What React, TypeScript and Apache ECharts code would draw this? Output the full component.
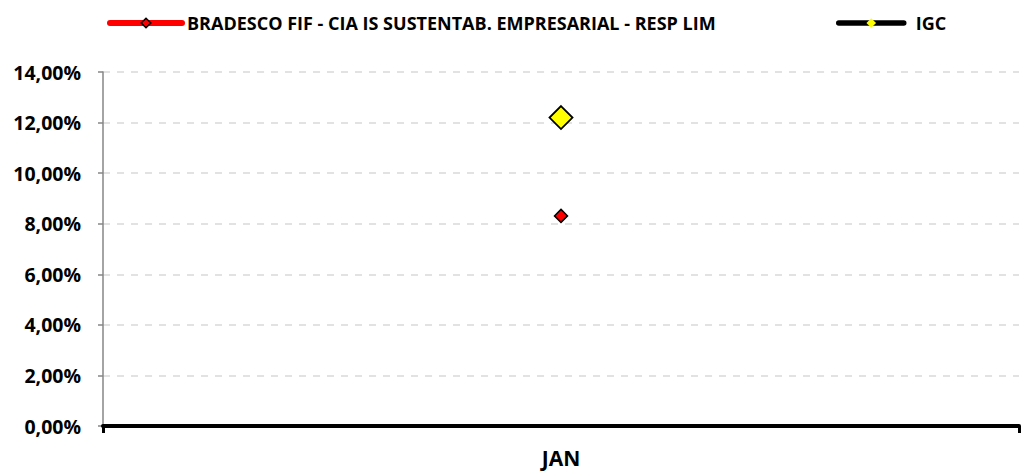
import React, { useEffect, useRef } from "react";
import * as echarts from "echarts";

const categories = ["JAN"];
const fundName = "BRADESCO FIF - CIA IS SUSTENTAB. EMPRESARIAL - RESP LIM";
const benchName = "IGC";
const fundValues = [8.31];
const benchValues = [12.2];
const yMin = 0;
const yMax = 14;
const yInterval = 2;

const FONT = "'Open Sans', Lato, sans-serif";

export default function App() {
  const ref = useRef<HTMLDivElement>(null);
  useEffect(() => {
    if (!ref.current) return;
    const chart = echarts.init(ref.current, undefined, { renderer: "svg" });
    chart.setOption({
      animation: false,
      backgroundColor: "#ffffff",
      textStyle: { fontFamily: FONT },
      legend: [
        {
          data: [
            {
              name: fundName,
              itemStyle: { color: "#ff0000", borderColor: "#000", borderWidth: 1.5 },
              lineStyle: { color: "#ff0000", width: 6, cap: "round" },
            },
          ],
          left: 107,
          top: 14,
          padding: 0,
          itemWidth: 72,
          itemHeight: 12,
          textStyle: { fontFamily: FONT, fontWeight: "bold", fontSize: 18, color: "#000" },
        },
        {
          data: [
            {
              name: benchName,
              itemStyle: { color: "#ffff00", borderColor: "#ffff00", borderWidth: 0 },
              lineStyle: { color: "#000000", width: 5.5, cap: "round" },
            },
          ],
          left: 836,
          top: 14,
          padding: 0,
          itemWidth: 65,
          itemHeight: 12,
          textStyle: {
            fontFamily: FONT,
            fontWeight: "bold",
            fontSize: 18,
            color: "#000",
            padding: [0, 0, 0, 7],
          },
        },
      ],
      grid: { left: 103, right: 3, top: 72, bottom: 45, containLabel: false },
      xAxis: {
        type: "category",
        data: categories,
        boundaryGap: true,
        axisLine: { lineStyle: { color: "#000", width: 4 } },
        axisTick: { show: true, length: 7, lineStyle: { color: "#000", width: 3 } },
        axisLabel: { fontFamily: FONT, fontWeight: "bold", fontSize: 21, color: "#000", margin: 21 },
        z: 5,
      },
      yAxis: {
        type: "value",
        min: yMin,
        max: yMax,
        interval: yInterval,
        axisLine: { show: true, lineStyle: { color: "#868686", width: 1.5 } },
        axisTick: { show: true, length: 5, lineStyle: { color: "#868686", width: 1.5 } },
        axisLabel: {
          fontFamily: FONT,
          fontWeight: "bold",
          fontSize: 19.5,
          color: "#000",
          margin: 22,
          formatter: (v: number) => v.toFixed(2).replace(".", ",") + "%",
        },
        splitLine: { show: true, lineStyle: { color: "#d9d9d9", width: 1.5, type: [7, 7] } },
      },
      series: [
        {
          name: fundName,
          type: "line",
          data: fundValues,
          symbol: "diamond",
          symbolSize: 13,
          itemStyle: { color: "#ff0000", borderColor: "#000", borderWidth: 1.5 },
          lineStyle: { color: "#ff0000", width: 6 },
          z: 3,
        },
        {
          name: benchName,
          type: "line",
          data: benchValues,
          symbol: "diamond",
          symbolSize: 23,
          itemStyle: { color: "#ffff00", borderColor: "#000", borderWidth: 1.8 },
          lineStyle: { color: "#000000", width: 6 },
          z: 3,
        },
      ],
    });
    return () => chart.dispose();
  }, []);
  return <div ref={ref} style={{ position: "absolute", left: 0, top: 0, width: 1022, height: 471 }} />;
}
